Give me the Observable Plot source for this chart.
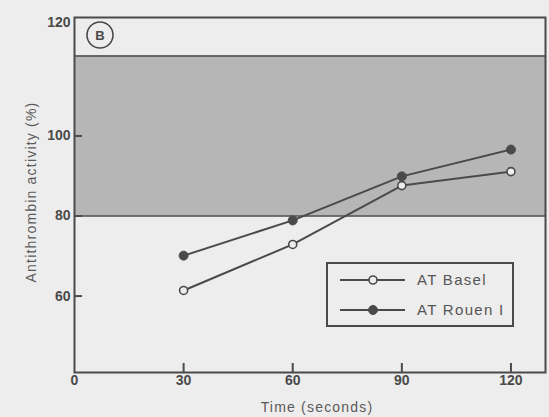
<!DOCTYPE html>
<html><head><meta charset="utf-8">
<script src="https://cdn.jsdelivr.net/npm/d3@7"></script>
<script src="https://cdn.jsdelivr.net/npm/@observablehq/plot@0.6"></script>
<style>
html,body{margin:0;padding:0;background:#ededed;}
#chart svg{display:block;}
</style></head><body><div id="chart"></div>
<script>
// ---- data ----
const times = [30, 60, 90, 120];
const basel = [61.4, 72.9, 87.6, 91.1];
const rouen = [70.1, 78.9, 89.9, 96.6];
const seriesNames = ["AT Basel", "AT Rouen I"];
const xTicks = [0, 30, 60, 90, 120];
const yTicks = [60, 80, 100];
const yTopLabel = "120";
const normalRange = [80, 120];
const panelLabel = "B";
const xTitle = "Time (seconds)";
const yTitle = "Antithrombin activity (%)";

const baselRows = times.map((t, i) => ({time: t, value: basel[i], series: seriesNames[0]}));
const rouenRows = times.map((t, i) => ({time: t, value: rouen[i], series: seriesNames[1]}));
const rows = baselRows.concat(rouenRows);

const W = 549, H = 417;
const M = {left: 74, right: 4, top: 17, bottom: 45};
const frameW = W - M.left - M.right, frameH = H - M.top - M.bottom;
const ink = "#4a4a4a";
const paper = "#ededed";
const font = "'Liberation Sans', Arial, Helvetica, sans-serif";

const chart = Plot.plot({
  width: W, height: H,
  marginLeft: M.left, marginRight: M.right, marginTop: M.top, marginBottom: M.bottom,
  style: {background: paper, color: ink, fontFamily: font},
  x: {domain: [0, 129.5], label: null, axis: null},
  y: {domain: [40.9, 129.6], label: null, axis: null},
  marks: [
    Plot.rect([normalRange], {y1: d => d[0], y2: d => d[1], fill: "#b6b6b6"}),
    Plot.ruleY(normalRange, {stroke: ink, strokeWidth: 1.5}),
    // inward tick marks
    Plot.tickX(xTicks.filter(d => d > 0), {x: d => d, insetTop: frameH - 9, stroke: ink, strokeWidth: 2}),
    Plot.tickY(yTicks, {y: d => d, insetRight: frameW - 8, stroke: ink, strokeWidth: 2}),
    // tick labels
    Plot.axisX(xTicks, {tickSize: 0, tickPadding: 3, fontSize: 14, fontWeight: "bold", fill: ink, label: null}),
    Plot.axisY(yTicks, {tickSize: 0, tickPadding: 4, fontSize: 14, fontWeight: "bold", fill: ink, label: null}),
    Plot.text([yTopLabel], {text: d => d, frameAnchor: "top-left", dx: -4, textAnchor: "end", fontSize: 14, fontWeight: "bold", fill: ink}),
    // series
    Plot.line(rows, {x: "time", y: "value", z: "series", stroke: ink, strokeWidth: 2}),
    Plot.dot(baselRows, {x: "time", y: "value", r: 4, fill: paper, stroke: ink, strokeWidth: 1.6}),
    Plot.dot(rouenRows, {x: "time", y: "value", r: 4.5, fill: ink, stroke: ink, strokeWidth: 1}),
    Plot.frame({stroke: ink, strokeWidth: 2})
  ]
});
document.getElementById("chart").appendChild(chart);

const svg = d3.select(chart);

// panel label
svg.append("circle").attr("cx", 100).attr("cy", 35).attr("r", 13)
  .attr("fill", "none").attr("stroke", ink).attr("stroke-width", 1.6);
svg.append("text").attr("x", 100).attr("y", 35).attr("dy", "0.36em")
  .attr("text-anchor", "middle").attr("font-family", font).attr("font-size", 13)
  .attr("font-weight", "bold").attr("fill", ink).text(panelLabel);

// axis titles
svg.append("text").attr("transform", "translate(31,192) rotate(-90)")
  .attr("text-anchor", "middle").attr("dy", "0.35em").attr("font-family", font)
  .attr("font-size", 14).attr("letter-spacing", "1.2px").attr("fill", "#5a5a5a").text(yTitle);
svg.append("text").attr("x", 317).attr("y", 407).attr("dy", "0.35em")
  .attr("text-anchor", "middle").attr("font-family", font)
  .attr("font-size", 14).attr("letter-spacing", "1.2px").attr("fill", "#5a5a5a").text(xTitle);

// legend
const lg = svg.append("g");
lg.append("rect").attr("x", 327).attr("y", 263).attr("width", 186).attr("height", 63)
  .attr("fill", "none").attr("stroke", ink).attr("stroke-width", 2);
seriesNames.forEach((name, i) => {
  const y = 280 + i * 30;
  lg.append("line").attr("x1", 340).attr("x2", 405).attr("y1", y).attr("y2", y)
    .attr("stroke", ink).attr("stroke-width", 2);
  lg.append("circle").attr("cx", 373).attr("cy", y).attr("r", i === 0 ? 4 : 4.5)
    .attr("fill", i === 0 ? paper : ink).attr("stroke", ink).attr("stroke-width", i === 0 ? 1.6 : 1);
  lg.append("text").attr("x", 417).attr("y", y).attr("dy", "0.35em")
    .attr("text-anchor", "start")
    .attr("font-family", font).attr("font-size", 15).attr("letter-spacing", "1.3px")
    .attr("fill", "#555").text(name);
});
</script>
</body></html>
